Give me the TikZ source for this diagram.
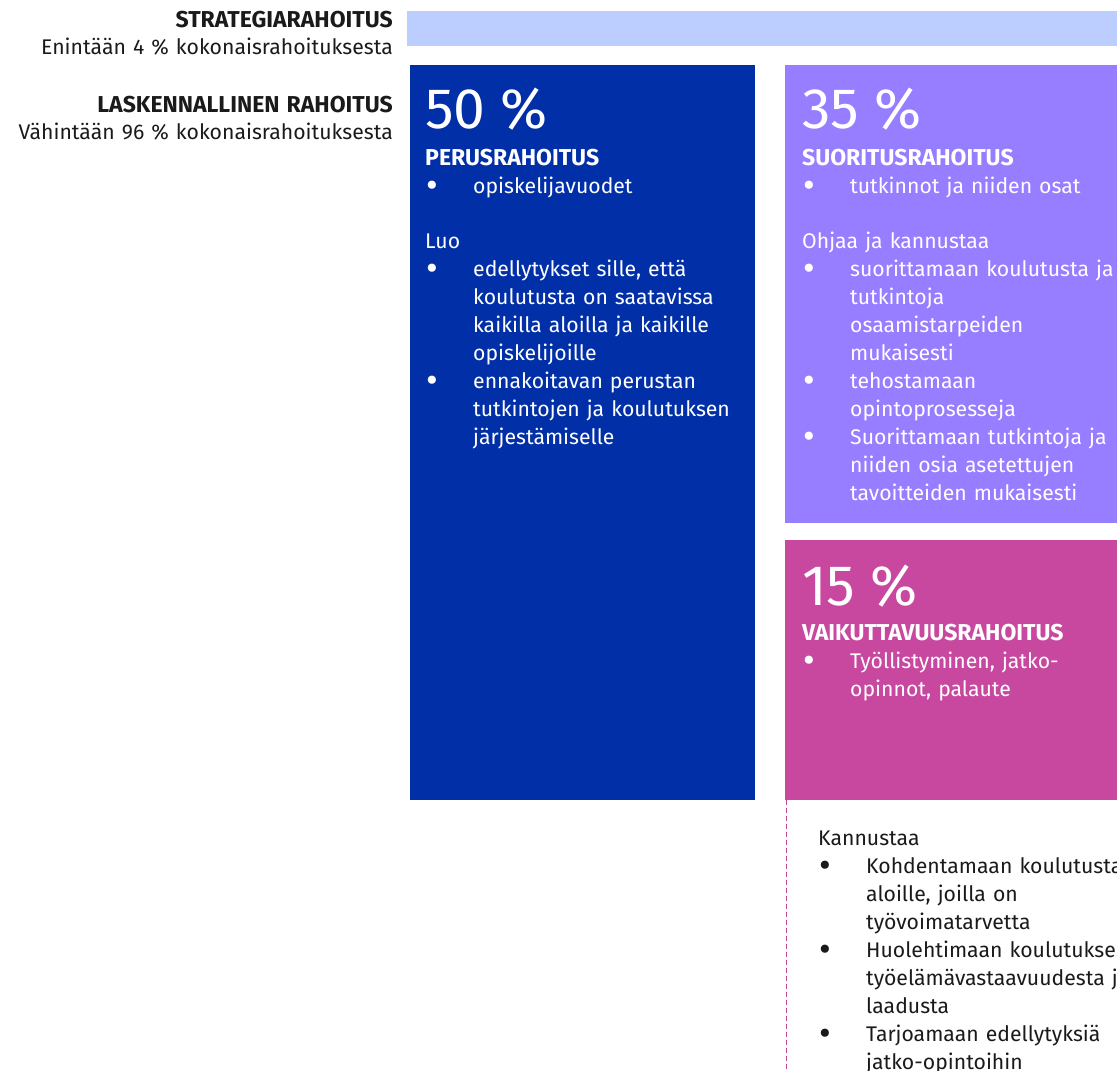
\documentclass[tikz,border=0pt]{standalone}
\usepackage{fontspec}
\setmainfont{Fira Sans}
\usetikzlibrary{positioning}

\definecolor{strategia}{RGB}{187,206,255}
\definecolor{perussini}{RGB}{0,47,167}
\definecolor{suorituslila}{RGB}{151,125,255}
\definecolor{vaikutuspinkki}{RGB}{200,72,160}
\definecolor{musta}{RGB}{26,26,26}

% bullet line with hanging indent
\newcommand{\pallo}{\raisebox{-0.2em}{\scalebox{1.7}{\textbullet}}}
\newcommand{\kohta}[1]{\par\hangindent=48pt\hangafter=1\noindent\makebox[48pt][l]{\hspace{1pt}\pallo}#1\par}
\newcommand{\otsake}[1]{{\fontsize{23}{28}\selectfont\bfseries #1}}

\begin{document}
\begin{tikzpicture}[x=1pt, y=-1pt,
	laatikko/.style={anchor=north west, inner sep=0pt, outer sep=0pt},
	iso/.style={anchor=base west, inner sep=0pt, text=white, font=\fontsize{57}{60}\selectfont},
	teksti/.style={anchor=base west, inner sep=0pt, align=left, text width=330, font=\fontsize{21.2}{28}\selectfont},
	otsikko/.style={anchor=base east, inner sep=0pt, align=right, text width=400, text=musta, font=\fontsize{21.2}{27}\selectfont}]

	\useasboundingbox (0,0) rectangle (1117,1071);

	\node[laatikko, fill=strategia, minimum width=710, minimum height=35] (strategia) at (407,11) {};
	\node[otsikko] (strat) at (393,27) {\otsake{STRATEGIARAHOITUS}\\Enintään 4~\% kokonaisrahoituksesta};
	\node[otsikko] (laskennallinen) at (393,112) {\otsake{LASKENNALLINEN RAHOITUS}\\Vähintään 96~\% kokonaisrahoituksesta};

	\node[laatikko, fill=perussini, minimum width=345, minimum height=735] (perus) at (410,65) {};
	\node[iso] (perus50) at ([xshift=15pt, yshift=-63pt]perus.north west) {50~\%};
	\node[teksti, text=white] (perusteksti) at ([xshift=15pt, yshift=-100pt]perus.north west) {\otsake{PERUSRAHOITUS}
		\kohta{opiskelijavuodet}
		\vspace{27pt}\noindent Luo
		\kohta{edellytykset sille, että\newline koulutusta on saatavissa\newline kaikilla aloilla ja kaikille\newline opiskelijoille}
		\kohta{ennakoitavan perustan\newline tutkintojen ja koulutuksen\newline järjestämiselle}};

	\node[laatikko, fill=suorituslila, minimum width=340, minimum height=458] (suoritus) at (785,65) {};
	\node[iso] (suoritus35) at ([xshift=17pt, yshift=-63pt]suoritus.north west) {35~\%};
	\node[teksti, text=white] (suoritusteksti) at ([xshift=17pt, yshift=-100pt]suoritus.north west) {\otsake{SUORITUSRAHOITUS}
		\kohta{tutkinnot ja niiden osat}
		\vspace{27pt}\noindent Ohjaa ja kannustaa
		\kohta{suorittamaan koulutusta ja\newline tutkintoja\newline osaamistarpeiden\newline mukaisesti}
		\kohta{tehostamaan\newline opintoprosesseja}
		\kohta{Suorittamaan tutkintoja ja\newline niiden osia asetettujen\newline tavoitteiden mukaisesti}};

	\node[laatikko, fill=vaikutuspinkki, minimum width=340, minimum height=260] (vaikutus) at (785,540) {};
	\node[iso] (vaikutus15) at ([xshift=17pt, yshift=-65pt]vaikutus.north west) {15~\%};
	\node[teksti, text=white] (vaikutusteksti) at ([xshift=17pt, yshift=-100pt]vaikutus.north west) {\otsake{VAIKUTTAVUUSRAHOITUS}
		\kohta{Työllistyminen, jatko-\newline opinnot, palaute}};

	\coordinate (alareuna) at (786,1071);
	\draw[vaikutuspinkki, line width=1pt, dash pattern=on 5pt off 3pt] ([xshift=1pt]vaikutus.south west) -- (alareuna);

	\node[teksti, text=musta, text width=400] (kannustaa) at ([xshift=33pt, yshift=-45pt]vaikutus.south west) {Kannustaa
		\kohta{Kohdentamaan koulutusta\newline aloille, joilla on\newline työvoimatarvetta}
		\kohta{Huolehtimaan koulutuksen\newline työelämävastaavuudesta ja\newline laadusta}
		\kohta{Tarjoamaan edellytyksiä\newline jatko-opintoihin}};

\end{tikzpicture}
\end{document}
